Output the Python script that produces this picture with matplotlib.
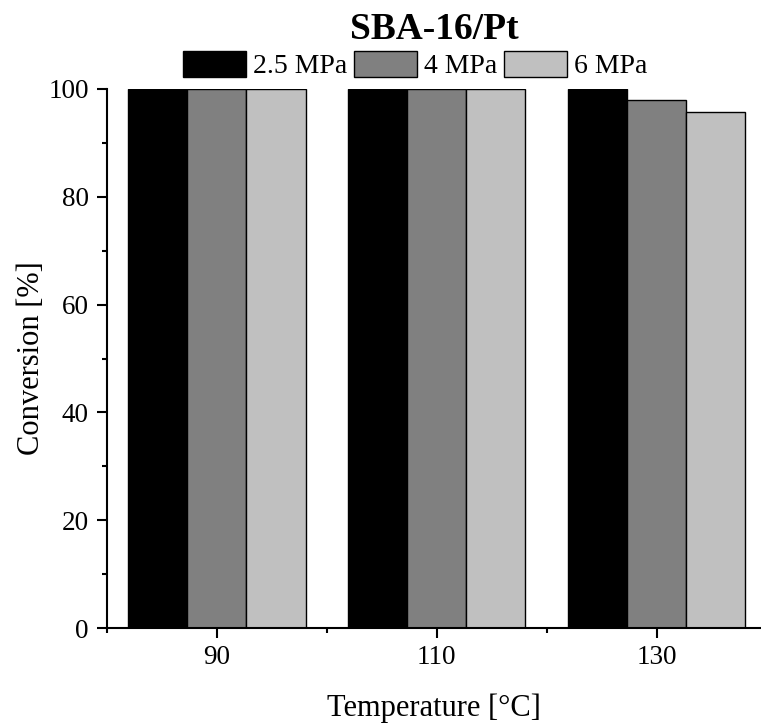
import matplotlib
matplotlib.use("Agg")
import matplotlib.pyplot as plt
import numpy as np
from matplotlib.ticker import MultipleLocator

plt.rcParams['font.family'] = ['Liberation Serif', 'DejaVu Serif']

temperatures = [90, 110, 130]
series_names = ["2.5 MPa", "4 MPa", "6 MPa"]
conv_25 = [100, 100, 100]
conv_4 = [100, 100, 98.0]
conv_6 = [100, 100, 95.7]
colors = ["#000000", "#808080", "#c0c0c0"]

fig = plt.figure(figsize=(7.61, 7.23), dpi=100)
ax = fig.add_axes([107/761, 1-628/723, 1-107/761, (628-89)/723])

bw = 5.38
x = np.array(temperatures, dtype=float)
handles = []
for i, (vals, c, name) in enumerate(zip([conv_25, conv_4, conv_6], colors, series_names)):
    h = ax.bar(x + (i-1)*bw, vals, width=bw, color=c, edgecolor='black', linewidth=1.0, label=name)
    handles.append(h)

ax.set_xlim(80, 139.5)
ax.set_ylim(0, 100)
ax.set_xticks(temperatures)
ax.xaxis.set_minor_locator(MultipleLocator(10))
ax.yaxis.set_major_locator(MultipleLocator(20))
ax.yaxis.set_minor_locator(MultipleLocator(10))
for s in ['top', 'right']:
    ax.spines[s].set_visible(False)
for s in ['left', 'bottom']:
    ax.spines[s].set_linewidth(1.5)
ax.tick_params(which='major', direction='out', length=7, width=1.5, labelsize=19.5, pad=5)
ax.tick_params(which='minor', direction='out', length=3.5, width=1.5)
ax.tick_params(axis='y', which='major', pad=6)
ax.set_ylabel("Conversion [%]", fontsize=22, labelpad=2)
ax.set_xlabel("Temperature [°C]", fontsize=22, labelpad=17)

fig.text(434/761, 1-39/723, "SBA-16/Pt", ha='center', va='baseline', fontsize=27, fontweight='bold')
fig.legend(handles=handles, labels=series_names, loc='center', bbox_to_anchor=(415/761, 1-65/723),
           ncol=3, frameon=False, fontsize=20, handlelength=2.27, handleheight=1.08,
           handletextpad=0.25, columnspacing=0.25, borderpad=0, borderaxespad=0)

fig.savefig("out.png", dpi=100)
